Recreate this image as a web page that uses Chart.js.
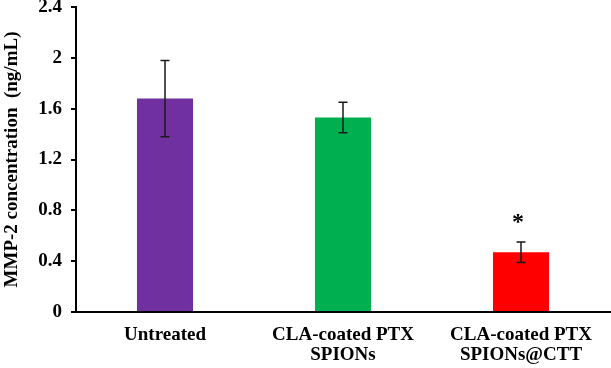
<!DOCTYPE html>
<html>
<head>
<meta charset="utf-8">
<script src="https://cdn.jsdelivr.net/npm/chart.js@4/dist/chart.umd.min.js"></script>
<style>
  html, body { margin: 0; padding: 0; background: #fff; }
  #wrap { width: 611px; height: 368px; position: relative; }
</style>
</head>
<body>
<div id="wrap"><canvas id="c"></canvas></div>
<script>
const categories = ["Untreated", ["CLA-coated PTX", "SPIONs"], ["CLA-coated PTX", "SPIONs@CTT"]];
const values = [1.68, 1.53, 0.47];
const errors = [0.30, 0.12, 0.08];
const marks = ["", "", "*"];
const barColors = ["#7030A0", "#00B050", "#FF0000"];
const yTickLabels = ["0", "0.4", "0.8", "1.2", "1.6", "2", "2.4"];
const yTitle = "MMP-2 concentration  (ng/mL)";

const FONT = "'Liberation Serif', 'Times New Roman', serif";

const errorBarPlugin = {
  id: 'errorBars',
  afterDatasetsDraw(chart) {
    const ctx = chart.ctx;
    const meta = chart.getDatasetMeta(0);
    const y = chart.scales.y;
    ctx.save();
    ctx.strokeStyle = '#1a1a1a';
    ctx.lineWidth = 1.5;
    meta.data.forEach((bar, i) => {
      const x = bar.x;
      const top = y.getPixelForValue(values[i] + errors[i]);
      const bot = y.getPixelForValue(values[i] - errors[i]);
      ctx.beginPath();
      ctx.moveTo(x, top); ctx.lineTo(x, bot);
      ctx.moveTo(x - 4.5, top); ctx.lineTo(x + 4.5, top);
      ctx.moveTo(x - 4.5, bot); ctx.lineTo(x + 4.5, bot);
      ctx.stroke();
      if (marks[i]) {
        ctx.fillStyle = '#000';
        ctx.font = "bold 24px " + FONT;
        ctx.textAlign = 'center';
        ctx.textBaseline = 'middle';
        ctx.fillText(marks[i], x - 3, top - 19);
      }
    });
    ctx.restore();
  }
};

new Chart(document.getElementById('c'), {
  type: 'bar',
  data: {
    labels: categories,
    datasets: [{
      data: values,
      backgroundColor: barColors,
      borderWidth: 0,
      barPercentage: 0.315,
      categoryPercentage: 1.0
    }]
  },
  options: {
    responsive: true,
    maintainAspectRatio: false,
    animation: false,
    devicePixelRatio: 1,
    layout: { padding: { top: 0, right: 1, left: 0, bottom: 0 } },
    plugins: { legend: { display: false }, tooltip: { enabled: false } },
    scales: {
      x: {
        grid: { drawOnChartArea: false, drawTicks: false },
        border: { display: true, color: '#000', width: 2 },
        ticks: { color: '#000', font: { family: FONT, size: 19, weight: 'bold', lineHeight: 1.05 }, padding: 13, maxRotation: 0, autoSkip: false },
        afterFit(scale) { scale.height = 56; }
      },
      y: {
        min: 0, max: 2.4,
        grid: { drawOnChartArea: false, drawTicks: true, tickLength: 5, color: '#000', lineWidth: 2 },
        border: { display: true, color: '#000', width: 2 },
        ticks: {
          stepSize: 0.4, color: '#000', padding: 9,
          font: { family: FONT, size: 19, weight: 'bold' },
          callback: (v, i) => yTickLabels[i]
        },
        title: { display: true, text: yTitle, color: '#000', font: { family: FONT, size: 19, weight: 'bold', lineHeight: 1.2 }, padding: { top: 1, bottom: 4 } },
        afterFit(scale) { scale.width = 76; scale.paddingTop = 7; scale.paddingBottom = 0; }
      }
    }
  },
  plugins: [errorBarPlugin]
});
</script>
</body>
</html>
